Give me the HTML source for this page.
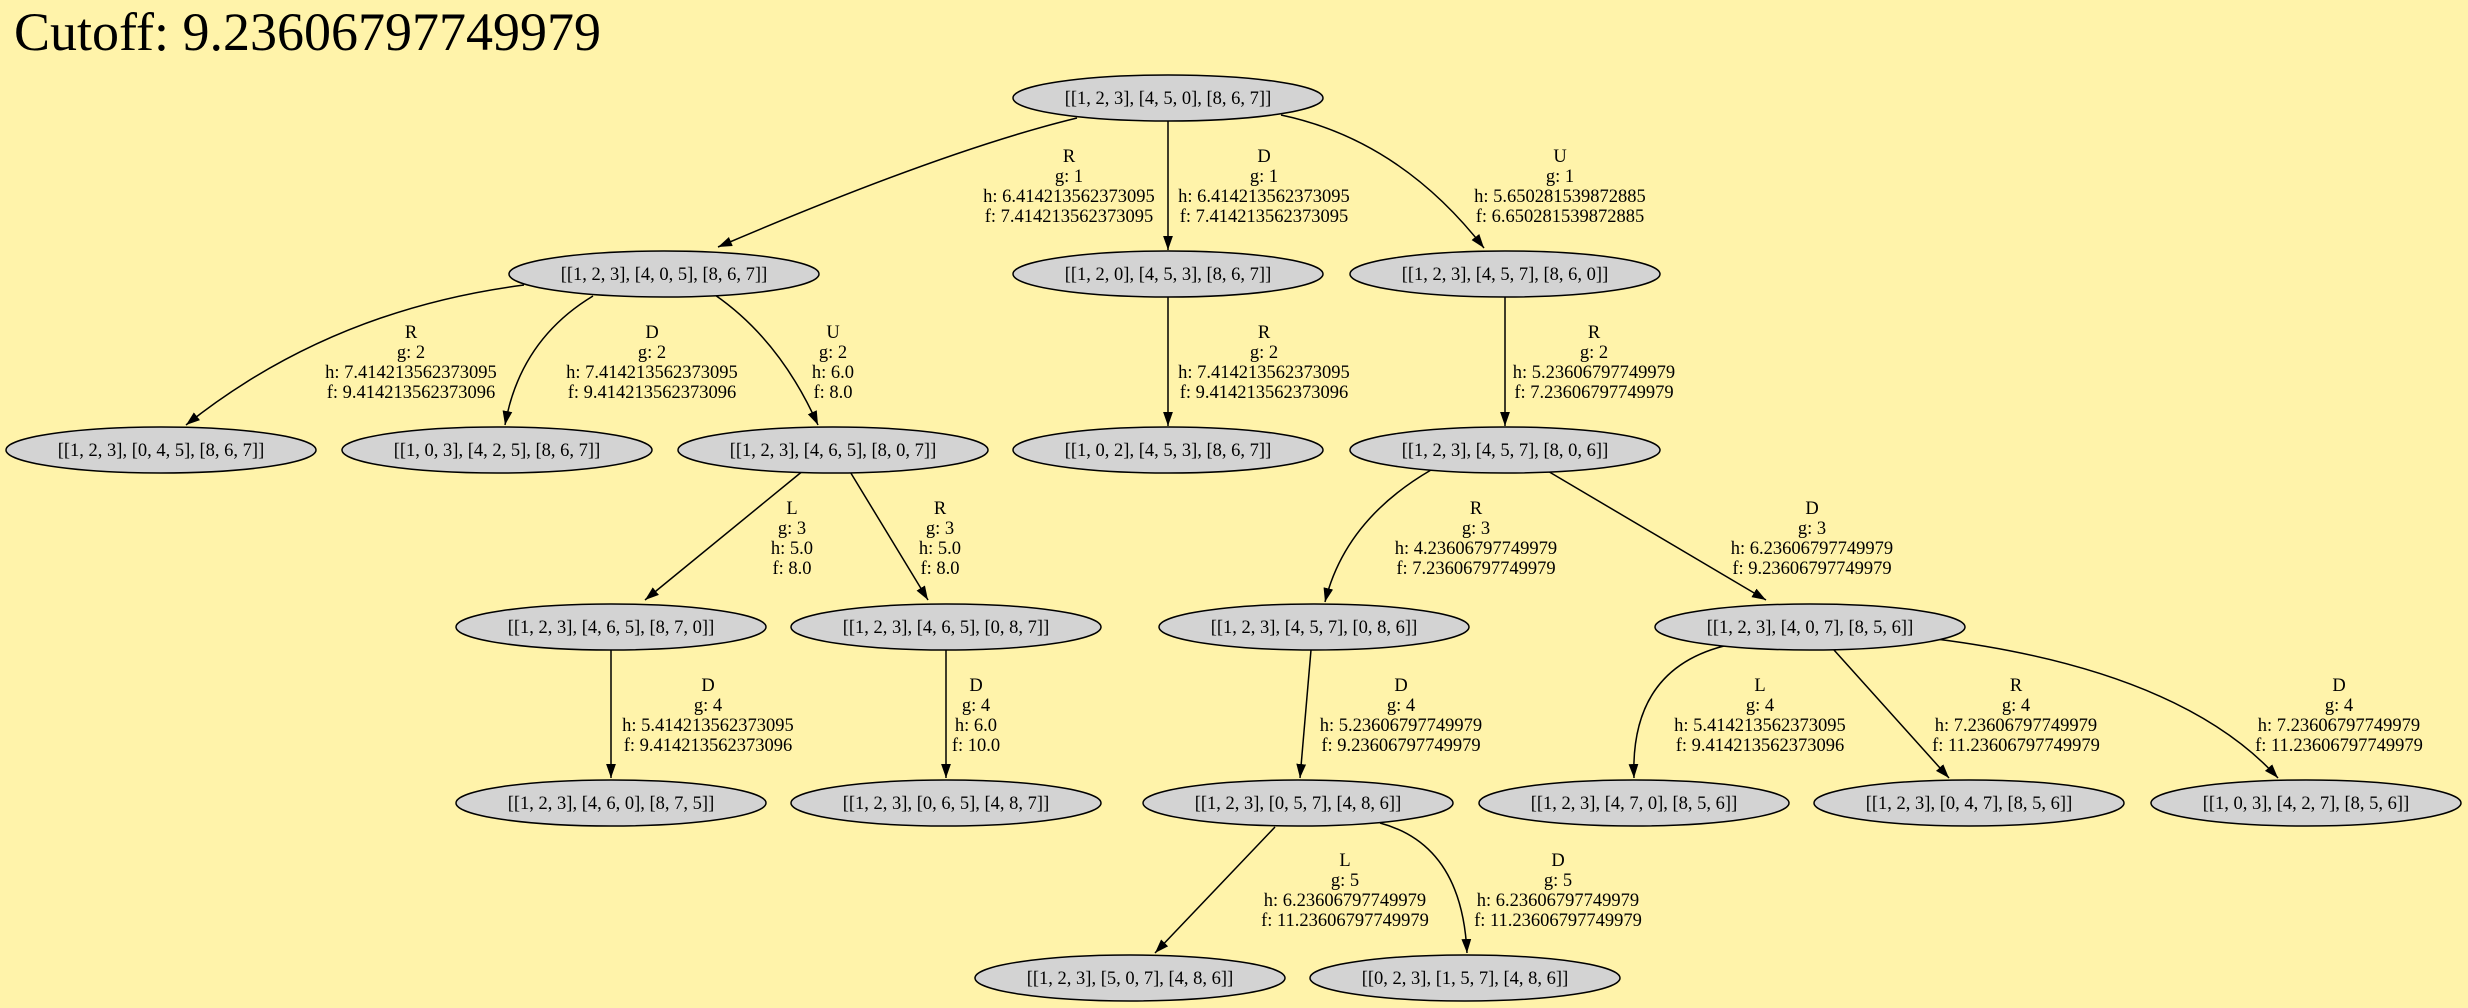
<!DOCTYPE html>
<html><head><meta charset="utf-8"><style>
html,body{margin:0;padding:0;background:#fff3aa;}
svg{display:block;}
text{font-family:"Liberation Serif",serif;}
</style></head><body>
<svg width="2468" height="1008" viewBox="0 0 2468 1008" xmlns="http://www.w3.org/2000/svg">
<defs><marker id="a" viewBox="0 0 10 10" refX="10" refY="5" markerWidth="14" markerHeight="14" markerUnits="userSpaceOnUse" orient="auto"><path d="M0,1.5 L10,5 L0,8.5 z" fill="#000"/></marker></defs>
<rect width="2468" height="1008" fill="#fff3aa"/>
<text x="14" y="50" font-size="54">Cutoff: 9.23606797749979</text>
<g fill="none" stroke="#000" stroke-width="1.5" marker-end="url(#a)">
<path d="M1077,118 Q945,150 718,247"/>
<path d="M1168,121 L1168,250"/>
<path d="M1281,115 Q1400,140 1484,248"/>
<path d="M524,285 Q330,310 186,425"/>
<path d="M593,296 Q520,340 505,425"/>
<path d="M715,295 Q780,340 818,425"/>
<path d="M1168,297 L1168,426"/>
<path d="M1505,297 L1505,426"/>
<path d="M804,470 L645,600"/>
<path d="M849,470 L928,600"/>
<path d="M1431,470 Q1345,520 1325,602"/>
<path d="M1546,470 L1766,600"/>
<path d="M611,650 L611,778"/>
<path d="M946,650 L946,778"/>
<path d="M1311,650 L1300,778"/>
<path d="M1724,646 Q1630,670 1634,778"/>
<path d="M1834,650 L1949,778"/>
<path d="M1936,639 Q2180,670 2278,778"/>
<path d="M1275,827 L1155,953"/>
<path d="M1380,823 Q1462,845 1467,953"/>
</g>
<g fill="#d3d3d3" stroke="#000" stroke-width="1.5">
<ellipse cx="1168" cy="98" rx="155" ry="23"/>
<ellipse cx="664" cy="274" rx="155" ry="23"/>
<ellipse cx="1168" cy="274" rx="155" ry="23"/>
<ellipse cx="1505" cy="274" rx="155" ry="23"/>
<ellipse cx="161" cy="450" rx="155" ry="23"/>
<ellipse cx="497" cy="450" rx="155" ry="23"/>
<ellipse cx="833" cy="450" rx="155" ry="23"/>
<ellipse cx="1168" cy="450" rx="155" ry="23"/>
<ellipse cx="1505" cy="450" rx="155" ry="23"/>
<ellipse cx="611" cy="627" rx="155" ry="23"/>
<ellipse cx="946" cy="627" rx="155" ry="23"/>
<ellipse cx="1314" cy="627" rx="155" ry="23"/>
<ellipse cx="1810" cy="627" rx="155" ry="23"/>
<ellipse cx="611" cy="803" rx="155" ry="23"/>
<ellipse cx="946" cy="803" rx="155" ry="23"/>
<ellipse cx="1298" cy="803" rx="155" ry="23"/>
<ellipse cx="1634" cy="803" rx="155" ry="23"/>
<ellipse cx="1969" cy="803" rx="155" ry="23"/>
<ellipse cx="2306" cy="803" rx="155" ry="23"/>
<ellipse cx="1130" cy="978" rx="155" ry="23"/>
<ellipse cx="1465" cy="978" rx="155" ry="23"/>
</g>
<g font-size="18.5" text-anchor="middle">
<text x="1168" y="104">[[1, 2, 3], [4, 5, 0], [8, 6, 7]]</text>
<text x="664" y="280">[[1, 2, 3], [4, 0, 5], [8, 6, 7]]</text>
<text x="1168" y="280">[[1, 2, 0], [4, 5, 3], [8, 6, 7]]</text>
<text x="1505" y="280">[[1, 2, 3], [4, 5, 7], [8, 6, 0]]</text>
<text x="161" y="456">[[1, 2, 3], [0, 4, 5], [8, 6, 7]]</text>
<text x="497" y="456">[[1, 0, 3], [4, 2, 5], [8, 6, 7]]</text>
<text x="833" y="456">[[1, 2, 3], [4, 6, 5], [8, 0, 7]]</text>
<text x="1168" y="456">[[1, 0, 2], [4, 5, 3], [8, 6, 7]]</text>
<text x="1505" y="456">[[1, 2, 3], [4, 5, 7], [8, 0, 6]]</text>
<text x="611" y="633">[[1, 2, 3], [4, 6, 5], [8, 7, 0]]</text>
<text x="946" y="633">[[1, 2, 3], [4, 6, 5], [0, 8, 7]]</text>
<text x="1314" y="633">[[1, 2, 3], [4, 5, 7], [0, 8, 6]]</text>
<text x="1810" y="633">[[1, 2, 3], [4, 0, 7], [8, 5, 6]]</text>
<text x="611" y="809">[[1, 2, 3], [4, 6, 0], [8, 7, 5]]</text>
<text x="946" y="809">[[1, 2, 3], [0, 6, 5], [4, 8, 7]]</text>
<text x="1298" y="809">[[1, 2, 3], [0, 5, 7], [4, 8, 6]]</text>
<text x="1634" y="809">[[1, 2, 3], [4, 7, 0], [8, 5, 6]]</text>
<text x="1969" y="809">[[1, 2, 3], [0, 4, 7], [8, 5, 6]]</text>
<text x="2306" y="809">[[1, 0, 3], [4, 2, 7], [8, 5, 6]]</text>
<text x="1130" y="984">[[1, 2, 3], [5, 0, 7], [4, 8, 6]]</text>
<text x="1465" y="984">[[0, 2, 3], [1, 5, 7], [4, 8, 6]]</text>
</g>
<g font-size="18.5" text-anchor="middle">
<text x="1069" y="162">R<tspan x="1069" dy="20">g: 1</tspan><tspan x="1069" dy="20">h: 6.414213562373095</tspan><tspan x="1069" dy="20">f: 7.414213562373095</tspan></text>
<text x="1264" y="162">D<tspan x="1264" dy="20">g: 1</tspan><tspan x="1264" dy="20">h: 6.414213562373095</tspan><tspan x="1264" dy="20">f: 7.414213562373095</tspan></text>
<text x="1560" y="162">U<tspan x="1560" dy="20">g: 1</tspan><tspan x="1560" dy="20">h: 5.650281539872885</tspan><tspan x="1560" dy="20">f: 6.650281539872885</tspan></text>
<text x="411" y="338">R<tspan x="411" dy="20">g: 2</tspan><tspan x="411" dy="20">h: 7.414213562373095</tspan><tspan x="411" dy="20">f: 9.414213562373096</tspan></text>
<text x="652" y="338">D<tspan x="652" dy="20">g: 2</tspan><tspan x="652" dy="20">h: 7.414213562373095</tspan><tspan x="652" dy="20">f: 9.414213562373096</tspan></text>
<text x="833" y="338">U<tspan x="833" dy="20">g: 2</tspan><tspan x="833" dy="20">h: 6.0</tspan><tspan x="833" dy="20">f: 8.0</tspan></text>
<text x="1264" y="338">R<tspan x="1264" dy="20">g: 2</tspan><tspan x="1264" dy="20">h: 7.414213562373095</tspan><tspan x="1264" dy="20">f: 9.414213562373096</tspan></text>
<text x="1594" y="338">R<tspan x="1594" dy="20">g: 2</tspan><tspan x="1594" dy="20">h: 5.23606797749979</tspan><tspan x="1594" dy="20">f: 7.23606797749979</tspan></text>
<text x="792" y="514">L<tspan x="792" dy="20">g: 3</tspan><tspan x="792" dy="20">h: 5.0</tspan><tspan x="792" dy="20">f: 8.0</tspan></text>
<text x="940" y="514">R<tspan x="940" dy="20">g: 3</tspan><tspan x="940" dy="20">h: 5.0</tspan><tspan x="940" dy="20">f: 8.0</tspan></text>
<text x="1476" y="514">R<tspan x="1476" dy="20">g: 3</tspan><tspan x="1476" dy="20">h: 4.23606797749979</tspan><tspan x="1476" dy="20">f: 7.23606797749979</tspan></text>
<text x="1812" y="514">D<tspan x="1812" dy="20">g: 3</tspan><tspan x="1812" dy="20">h: 6.23606797749979</tspan><tspan x="1812" dy="20">f: 9.23606797749979</tspan></text>
<text x="708" y="691">D<tspan x="708" dy="20">g: 4</tspan><tspan x="708" dy="20">h: 5.414213562373095</tspan><tspan x="708" dy="20">f: 9.414213562373096</tspan></text>
<text x="976" y="691">D<tspan x="976" dy="20">g: 4</tspan><tspan x="976" dy="20">h: 6.0</tspan><tspan x="976" dy="20">f: 10.0</tspan></text>
<text x="1401" y="691">D<tspan x="1401" dy="20">g: 4</tspan><tspan x="1401" dy="20">h: 5.23606797749979</tspan><tspan x="1401" dy="20">f: 9.23606797749979</tspan></text>
<text x="1760" y="691">L<tspan x="1760" dy="20">g: 4</tspan><tspan x="1760" dy="20">h: 5.414213562373095</tspan><tspan x="1760" dy="20">f: 9.414213562373096</tspan></text>
<text x="2016" y="691">R<tspan x="2016" dy="20">g: 4</tspan><tspan x="2016" dy="20">h: 7.23606797749979</tspan><tspan x="2016" dy="20">f: 11.23606797749979</tspan></text>
<text x="2339" y="691">D<tspan x="2339" dy="20">g: 4</tspan><tspan x="2339" dy="20">h: 7.23606797749979</tspan><tspan x="2339" dy="20">f: 11.23606797749979</tspan></text>
<text x="1345" y="866">L<tspan x="1345" dy="20">g: 5</tspan><tspan x="1345" dy="20">h: 6.23606797749979</tspan><tspan x="1345" dy="20">f: 11.23606797749979</tspan></text>
<text x="1558" y="866">D<tspan x="1558" dy="20">g: 5</tspan><tspan x="1558" dy="20">h: 6.23606797749979</tspan><tspan x="1558" dy="20">f: 11.23606797749979</tspan></text>
</g>
</svg>
</body></html>
